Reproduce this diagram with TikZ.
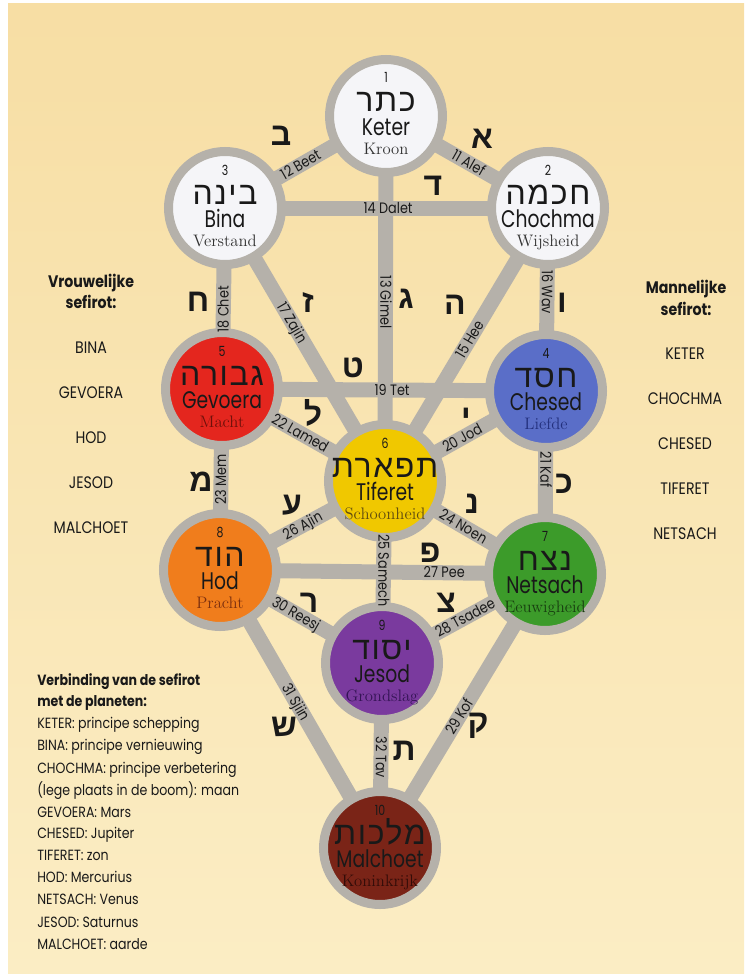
\documentclass[tikz,border=0pt]{standalone}
\usepackage{fontspec}
\usetikzlibrary{calc}
\TeXXeTstate=1
\newfontfamily\heb[Script=Hebrew,LetterSpace=5]{Liberation Sans}
\newfontfamily\hebl[Script=Hebrew]{Liberation Sans}
\newfontfamily\nsans[FakeStretch=0.78]{Poppins}
\newfontfamily\lsans[FakeStretch=0.85]{Poppins}
\definecolor{paperA}{RGB}{247,222,164}
\definecolor{paperB}{RGB}{251,237,196}
\definecolor{bandgrey}{RGB}{181,177,170}
\definecolor{cWhite}{RGB}{245,245,248}
\definecolor{cRed}{RGB}{228,38,30}
\definecolor{cBlue}{RGB}{90,110,200}
\definecolor{cYellow}{RGB}{240,200,0}
\definecolor{cOrange}{RGB}{240,125,28}
\definecolor{cGreen}{RGB}{60,155,42}
\definecolor{cPurple}{RGB}{122,58,158}
\definecolor{cBrown}{RGB}{122,36,23}
\definecolor{tGrey}{RGB}{50,50,50}
\definecolor{tRed}{RGB}{110,16,10}
\definecolor{tBlue}{RGB}{35,48,125}
\definecolor{tYellow}{RGB}{95,75,15}
\definecolor{tOrange}{RGB}{125,48,15}
\definecolor{tGreen}{RGB}{24,62,16}
\definecolor{tPurple}{RGB}{52,20,85}
\definecolor{tBrown}{RGB}{50,12,8}
\definecolor{ink}{RGB}{25,25,25}
\pgfdeclarelayer{bg}
\pgfdeclarelayer{bands}
\pgfsetlayers{bg,bands,main}
\newcommand\mksef[8]{%
  \node[sefira, fill=#3] (#1) at #2 {};
  \node[numtxt] (#1-n) at ($(#1)+(0,-33)$) {#4};
  \node[hname] (#1-h) at ($(#1)+(0,-4)$) {\beginR #5\endR};
  \node[lname] (#1-l) at ($(#1)+(0,19.5)$) {#6};
  \node[tname, text=#8] (#1-t) at ($(#1)+(0,38)$) {#7};
}
\begin{document}
\begin{tikzpicture}[x=0.75pt, y=-0.75pt,
  sefira/.style={circle, minimum size=84.75pt, inner sep=0pt, outer sep=0pt, draw=bandgrey, line width=6.75pt},
  bandline/.style={draw=bandgrey, line width=11.25pt},
  plabel/.style={font=\lsans\fontsize{11.3}{11}\selectfont, text=ink, inner sep=0pt, text height=7.8pt, text depth=0pt},
  hletter/.style={font=\hebl\bfseries\fontsize{24}{24}\selectfont, text=ink, inner sep=0pt},
  numtxt/.style={font=\nsans\fontsize{10.5}{10}\selectfont, text=ink, anchor=base, inner sep=0pt},
  hname/.style={font=\heb\fontsize{24}{24}\selectfont, text=ink, anchor=base, inner sep=0pt},
  lname/.style={font=\nsans\fontsize{18}{18}\selectfont, text=ink, anchor=base, inner sep=0pt},
  tname/.style={font=\rmfamily\fontsize{12.5}{12}\selectfont, anchor=base, inner sep=0pt},
  listtxt/.style={font=\lsans\fontsize{12.5}{13}\selectfont, text=ink, anchor=base, inner sep=0pt},
  headtxt/.style={font=\lsans\bfseries\fontsize{12.5}{13}\selectfont, text=ink, anchor=base, inner sep=0pt},
  blocktxt/.style={font=\lsans\fontsize{11.1}{11}\selectfont, text=ink, anchor=base west, inner sep=0pt},
  blockhead/.style={font=\lsans\bfseries\fontsize{11.1}{11}\selectfont, text=ink, anchor=base west, inner sep=0pt}]
\useasboundingbox (0,0) rectangle (744,974);
\begin{pgfonlayer}{bg}
  \fill[white] (0,0) rectangle (744,974);
  \shade[top color=paperA, bottom color=paperB] (8,4) rectangle (744,974);
\end{pgfonlayer}

\mksef{keter}{(386,116)}{cWhite}{1}{כתר}{Keter}{Kroon}{tGrey}
\mksef{chochma}{(548,208)}{cWhite}{2}{חכמה}{Chochma}{Wijsheid}{tGrey}
\mksef{bina}{(225,208)}{cWhite}{3}{בינה}{Bina}{Verstand}{tGrey}
\mksef{chesed}{(546,391)}{cBlue}{4}{חסד}{Chesed}{Liefde}{tBlue}
\mksef{gevoera}{(222,389)}{cRed}{5}{גבורה}{Gevoera}{Macht}{tRed}
\mksef{tiferet}{(385,481)}{cYellow}{6}{תפארת}{Tiferet}{Schoonheid}{tYellow}
\mksef{netsach}{(545,574)}{cGreen}{7}{נצח}{Netsach}{Eeuwigheid}{tGreen}
\mksef{hod}{(220,570)}{cOrange}{8}{הוד}{Hod}{Pracht}{tOrange}
\mksef{jesod}{(382,663)}{cPurple}{9}{יסוד}{Jesod}{Grondslag}{tPurple}
\mksef{malchoet}{(380,848)}{cBrown}{10}{מלכות}{Malchoet}{Koninkrijk}{tBrown}

\begin{pgfonlayer}{bands}
\foreach \a/\b in {keter/bina, keter/chochma, keter/tiferet, bina/chochma,
  chochma/tiferet, chochma/chesed, bina/tiferet, bina/gevoera, gevoera/chesed,
  chesed/tiferet, chesed/netsach, gevoera/tiferet, gevoera/hod, tiferet/netsach,
  tiferet/jesod, hod/tiferet, hod/netsach, netsach/jesod, netsach/malchoet,
  hod/jesod, hod/malchoet, jesod/malchoet}
  \draw[bandline] (\a.center) -- (\b.center);
\end{pgfonlayer}

% path labels
\path (keter.center) -- (chochma.center) node[plabel,pos=0.51,sloped] (p11) {11 Alef};
\path (bina.center) -- (keter.center) node[plabel,pos=0.47,sloped] (p12) {12 Beet};
\path (keter.center) -- (tiferet.center) node[plabel,pos=0.51,rotate=-90] (p13) {13 Gimel};
\path (bina.center) -- (chochma.center) node[plabel,pos=0.505] (p14) {14 Dalet};
\path (tiferet.center) -- (chochma.center) node[plabel,pos=0.52,sloped] (p15) {15 Hee};
\path (chochma.center) -- (chesed.center) node[plabel,pos=0.46,rotate=-90] (p16) {16 Wav};
\path (bina.center) -- (tiferet.center) node[plabel,pos=0.42,sloped] (p17) {17 Zajin};
\path (gevoera.center) -- (bina.center) node[plabel,pos=0.44,rotate=90] (p18) {18 Chet};
\path (gevoera.center) -- (chesed.center) node[plabel,pos=0.525] (p19) {19 Tet};
\path (tiferet.center) -- (chesed.center) node[plabel,pos=0.48,sloped] (p20) {20 Jod};
\path (chesed.center) -- (netsach.center) node[plabel,pos=0.43,rotate=-90] (p21) {21 Kaf};
\path (gevoera.center) -- (tiferet.center) node[plabel,pos=0.48,sloped] (p22) {22 Lamed};
\path (hod.center) -- (gevoera.center) node[plabel,pos=0.50,rotate=90] (p23) {23 Mem};
\path (tiferet.center) -- (netsach.center) node[plabel,pos=0.49,sloped] (p24) {24 Noen};
\path (tiferet.center) -- (jesod.center) node[plabel,pos=0.49,rotate=-90] (p25) {25 Samech};
\path (hod.center) -- (tiferet.center) node[plabel,pos=0.50,sloped] (p26) {26 Ajin};
\path (hod.center) -- (netsach.center) node[plabel,pos=0.69] (p27) {27 Pee};
\path (jesod.center) -- (netsach.center) node[plabel,pos=0.51,sloped] (p28) {28 Tsadee};
\path (malchoet.center) -- (netsach.center) node[plabel,pos=0.48,sloped] (p29) {29 Kof};
\path (hod.center) -- (jesod.center) node[plabel,pos=0.47,sloped] (p30) {30 Reesj};
\path (hod.center) -- (malchoet.center) node[plabel,pos=0.475,sloped] (p31) {31 Sjiin};
\path (jesod.center) -- (malchoet.center) node[plabel,pos=0.51,rotate=-90] (p32) {32 Tav};

% Hebrew path letters
\node[hletter] (h11) at (482,139) {א};
\node[hletter] (h12) at (281,136) {ב};
\node[hletter] (h13) at (406,299) {ג};
\node[hletter] (h14) at (433,186) {ד};
\node[hletter] (h15) at (455,305) {ה};
\node[hletter] (h16) at (562,303) {ו};
\node[hletter] (h17) at (308,303) {ז};
\node[hletter] (h18) at (198,302) {ח};
\node[hletter] (h19) at (353,368) {ט};
\node[hletter] (h20) at (466,418) {י};
\node[hletter] (h21) at (564,484) {כ};
\node[hletter] (h22) at (313,413) {ל};
\node[hletter] (h23) at (201,482) {מ};
\node[hletter] (h24) at (472,504) {נ};
\node[hletter] (h26) at (292,505) {ע};
\node[hletter] (h27) at (430,553) {פ};
\node[hletter] (h28) at (446,603) {צ};
\node[hletter] (h29) at (478,726) {ק};
\node[hletter] (h30) at (309,603) {ר};
\node[hletter] (h31) at (284,727) {ש};
\node[hletter] (h32) at (404,751) {ת};

% left list
\node[headtxt] (vr1) at (91,287) {Vrouwelijke};
\node[headtxt] (vr2) at (91,308) {sefirot:};
\node[listtxt] (vb) at (91,353) {BINA};
\node[listtxt] (vg) at (91,398) {GEVOERA};
\node[listtxt] (vh) at (91,443) {HOD};
\node[listtxt] (vj) at (91,488) {JESOD};
\node[listtxt] (vm) at (91,533) {MALCHOET};
% right list
\node[headtxt] (mn1) at (686,293) {Mannelijke};
\node[headtxt] (mn2) at (686,315) {sefirot:};
\node[listtxt] (mk) at (685,359) {KETER};
\node[listtxt] (mc) at (685,404) {CHOCHMA};
\node[listtxt] (mh) at (685,449) {CHESED};
\node[listtxt] (mt) at (685,494) {TIFERET};
\node[listtxt] (mn) at (685,539) {NETSACH};

% bottom-left block
\node[blockhead] (b1) at (37,685) {Verbinding van de sefirot};
\node[blockhead] (b2) at (37,706) {met de planeten:};
\node[blocktxt] (b3) at (37,728) {KETER: principe schepping};
\node[blocktxt] (b4) at (37,750) {BINA: principe vernieuwing};
\node[blocktxt] (b5) at (37,773) {CHOCHMA: principe verbetering};
\node[blocktxt] (b6) at (37,795) {(lege plaats in de boom): maan};
\node[blocktxt] (b7) at (37,817) {GEVOERA: Mars};
\node[blocktxt] (b8) at (37,838) {CHESED: Jupiter};
\node[blocktxt] (b9) at (37,860) {TIFERET: zon};
\node[blocktxt] (b10) at (37,882) {HOD: Mercurius};
\node[blocktxt] (b11) at (37,904) {NETSACH: Venus};
\node[blocktxt] (b12) at (37,927) {JESOD: Saturnus};
\node[blocktxt] (b13) at (37,949) {MALCHOET: aarde};
\end{tikzpicture}
\end{document}
